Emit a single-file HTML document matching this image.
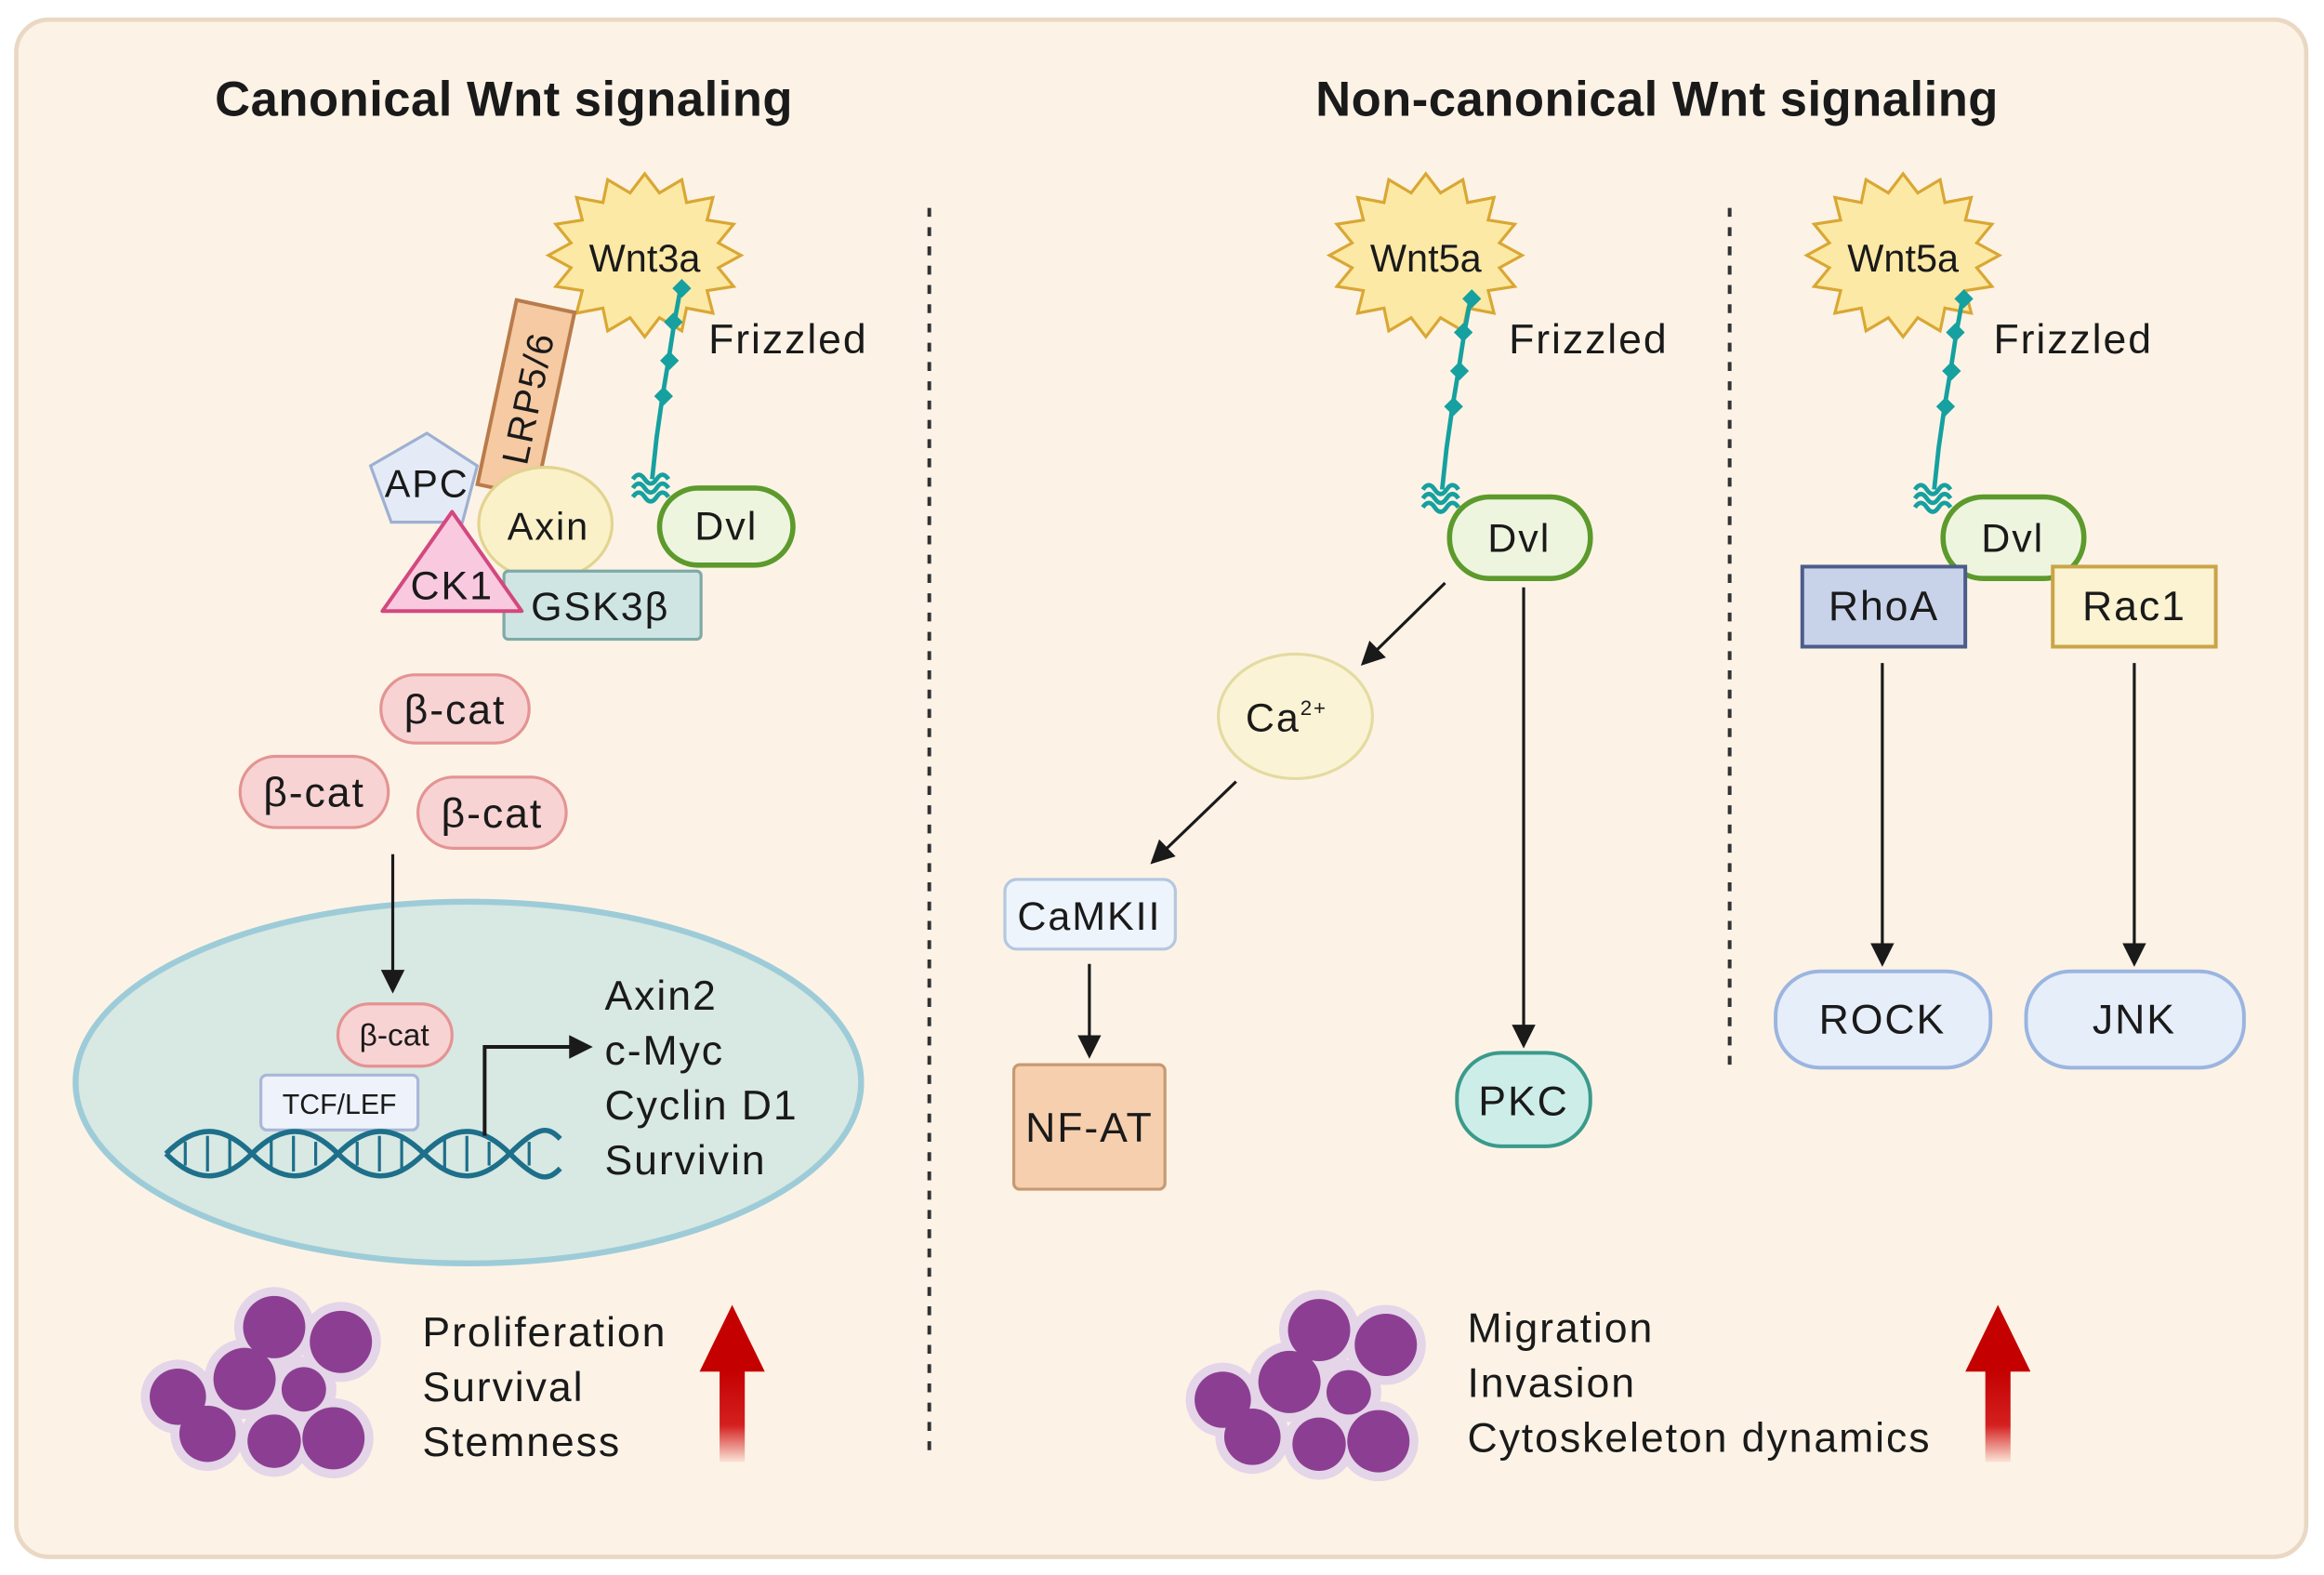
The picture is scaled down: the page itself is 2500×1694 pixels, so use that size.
<!DOCTYPE html>
<html><head><meta charset="utf-8"><style>
html,body{margin:0;padding:0;background:#fff;width:2500px;height:1694px;overflow:hidden}
svg{display:block}
text{font-family:"Liberation Sans",sans-serif;fill:#1a1a1a;letter-spacing:1.2px}
.t{font-size:28px}
</style></head><body>
<svg width="2500" height="1694" viewBox="0 0 1568 1062" xmlns="http://www.w3.org/2000/svg">
<defs>
<polygon id="star" points="65,0 49.7,8.4 60,21 42.1,23.8 46,39 28.2,35.6 25,51 9.9,42.1 0,55 -9.9,42.1 -25,51 -28.2,35.6 -46,39 -42.1,23.8 -60,21 -49.7,8.4 -65,0 -49.7,-8.4 -60,-21 -42.1,-23.8 -46,-39 -28.2,-35.6 -25,-51 -9.9,-42.1 0,-55 9.9,-42.1 25,-51 28.2,-35.6 46,-39 42.1,-23.8 60,-21 49.7,-8.4" fill="#fde9a6" stroke="#d9a733" stroke-width="2"/>
<marker id="ah2" markerWidth="16" markerHeight="16" refX="12" refY="8" orient="auto" markerUnits="userSpaceOnUse" viewBox="0 0 16 16"><path d="M0,0 L16,8 L0,16 z" fill="#1a1a1a"/></marker>
<g id="cells">
<g fill="#e4d5e8"><circle cx="85" cy="25" r="27"/><circle cx="130" cy="35" r="27"/><circle cx="65" cy="60" r="27"/><circle cx="20" cy="72" r="25"/><circle cx="105" cy="67" r="22"/><circle cx="40" cy="97" r="25"/><circle cx="85" cy="102" r="24"/><circle cx="125" cy="100" r="27"/></g>
<g fill="#8c3f92"><circle cx="85" cy="25" r="21"/><circle cx="130" cy="35" r="21"/><circle cx="65" cy="60" r="21"/><circle cx="20" cy="72" r="19"/><circle cx="105" cy="67" r="15"/><circle cx="40" cy="97" r="19"/><circle cx="85" cy="102" r="18"/><circle cx="125" cy="100" r="21"/></g>
</g>
<linearGradient id="rg" x1="0" y1="0" x2="0" y2="1"><stop offset="0" stop-color="#c40000"/><stop offset="0.6" stop-color="#d42020"/><stop offset="1" stop-color="#fbe3d6"/></linearGradient>
<g id="redarrow"><polygon points="-22,45 0,0 22,45" fill="#c40000"/><rect x="-8.5" y="44" width="17" height="62" fill="url(#rg)"/></g>
<g id="fz" fill="none" stroke="#16a0a0" stroke-width="3">
<path d="M25,-115 L20,-88 L16,-62 L12,-38 L8,-10 L5,18"/>
<path d="M-8,18 q4,-6 8,0 q4,6 8,0 q4,-6 8,0 M-8,24 q4,-6 8,0 q4,6 8,0 q4,-6 8,0 M-8,30 q4,-6 8,0 q4,6 8,0 q4,-6 8,0"/>
<g fill="#16a0a0" stroke="none"><rect x="20" y="-115" width="9" height="9" transform="rotate(45 25 -110)"/><rect x="15" y="-92" width="9" height="9" transform="rotate(45 20 -88)"/><rect x="12" y="-67" width="9" height="9" transform="rotate(45 16 -62)"/><rect x="8" y="-43" width="9" height="9" transform="rotate(45 12 -38)"/></g>
</g>
</defs>
<rect x="0" y="0" width="1568" height="1062" fill="#fff"/>
<rect x="11" y="13" width="1545" height="1037" rx="22" fill="#fcf3e6" stroke="#ead8c4" stroke-width="3"/>
<text x="340" y="78" font-size="33" font-weight="bold" text-anchor="middle" style="letter-spacing:0.3px">Canonical Wnt signaling</text>
<text x="1118" y="78" font-size="33" font-weight="bold" text-anchor="middle" style="letter-spacing:0.3px">Non-canonical Wnt signaling</text>
<line x1="627" y1="140" x2="627" y2="985" stroke="#333" stroke-width="2.5" stroke-dasharray="6,7"/>
<line x1="1167" y1="140" x2="1167" y2="718" stroke="#333" stroke-width="2.5" stroke-dasharray="6,7"/>

<!-- Canonical -->
<use href="#star" x="435" y="172"/>
<text x="435" y="183" font-size="26" text-anchor="middle" style="letter-spacing:0">Wnt3a</text>
<use href="#fz" x="435" y="305"/>
<text x="478" y="238" class="t">Frizzled</text>
<g transform="rotate(12 355 268)"><rect x="335" y="205" width="40" height="127" fill="#f6caa2" stroke="#b97b4b" stroke-width="2.5"/>
<text x="355" y="278" font-size="25" text-anchor="middle" transform="rotate(-90 355 268)">LRP5/6</text></g>
<polygon points="288,292 322,314 312,352 264,352 250,314" fill="#e4ebf7" stroke="#9eb0d2" stroke-width="2"/>
<text x="288" y="335" font-size="26" text-anchor="middle">APC</text>
<ellipse cx="368" cy="353" rx="45" ry="38" fill="#fbf1c9" stroke="#e2d48f" stroke-width="2"/>
<text x="370" y="364" font-size="26" text-anchor="middle">Axin</text>
<rect x="445" y="329" width="90" height="52" rx="26" fill="#eef5df" stroke="#5c9a2c" stroke-width="3.5"/>
<text x="490" y="364" font-size="27" text-anchor="middle">Dvl</text>
<rect x="340" y="385" width="133" height="46" rx="3" fill="#cfe5e3" stroke="#7fa9a6" stroke-width="2"/>
<text x="405" y="418" font-size="27" text-anchor="middle">GSK3β</text>
<polygon points="258,412 305,345 352,412" fill="#f9c9df" stroke="#d2487f" stroke-width="2.5" stroke-linejoin="round"/>
<text x="305" y="404" font-size="27" text-anchor="middle">CK1</text>
<g fill="#f8d3d3" stroke="#e49393" stroke-width="2">
<rect x="257" y="455" width="100" height="46" rx="23"/><rect x="162" y="510" width="100" height="48" rx="24"/><rect x="282" y="524" width="100" height="48" rx="24"/></g>
<text x="307" y="488" class="t" text-anchor="middle">β-cat</text>
<text x="212" y="544" class="t" text-anchor="middle">β-cat</text>
<text x="332" y="558" class="t" text-anchor="middle">β-cat</text>
<ellipse cx="316" cy="730" rx="265" ry="122" fill="#d8e8e3" stroke="#9dccd8" stroke-width="4"/>
<line x1="265" y1="576" x2="265" y2="666" stroke="#1a1a1a" stroke-width="2" marker-end="url(#ah2)"/>
<rect x="228" y="677" width="77" height="42" rx="21" fill="#f8d3d3" stroke="#e49393" stroke-width="2"/>
<text x="266" y="705" font-size="21" text-anchor="middle" style="letter-spacing:0">β-cat</text>
<rect x="176" y="725" width="106" height="37" rx="4" fill="#eef3fb" stroke="#a9b7d8" stroke-width="2"/>
<text x="229" y="751" font-size="19" text-anchor="middle" style="letter-spacing:0">TCF/LEF</text>
<g fill="none" stroke="#1d6f8a" stroke-width="3.5">
<path d="M112,778 C132,758 150,758 170,778 S208,798 228,778 S266,758 286,778 S324,798 344,778 S370,760 378,768"/>
<path d="M112,778 C132,798 150,798 170,778 S208,758 228,778 S266,798 286,778 S324,758 344,778 S370,796 378,788"/>
</g>
<g stroke="#1d6f8a" stroke-width="2">
<line x1="125" y1="770" x2="125" y2="786"/><line x1="140" y1="766" x2="140" y2="790"/><line x1="155" y1="768" x2="155" y2="788"/><line x1="183" y1="768" x2="183" y2="788"/><line x1="198" y1="766" x2="198" y2="790"/><line x1="213" y1="770" x2="213" y2="786"/><line x1="241" y1="770" x2="241" y2="786"/><line x1="256" y1="766" x2="256" y2="790"/><line x1="271" y1="768" x2="271" y2="788"/><line x1="300" y1="768" x2="300" y2="788"/><line x1="315" y1="766" x2="315" y2="790"/><line x1="330" y1="770" x2="330" y2="786"/><line x1="357" y1="770" x2="357" y2="786"/>
</g>
<path d="M327,766 L327,706 L396,706" fill="none" stroke="#1a1a1a" stroke-width="2.5" marker-end="url(#ah2)"/>
<g class="t"><text x="408" y="681">Axin2</text><text x="408" y="718">c-Myc</text><text x="408" y="755">Cyclin D1</text><text x="408" y="792">Survivin</text></g>
<use href="#cells" x="100" y="870"/>
<g class="t"><text x="285" y="908">Proliferation</text><text x="285" y="945">Survival</text><text x="285" y="982">Stemness</text></g>
<use href="#redarrow" x="494" y="880"/>

<!-- Non-canonical 1 -->
<use href="#star" x="962" y="172"/>
<text x="962" y="183" font-size="26" text-anchor="middle" style="letter-spacing:0">Wnt5a</text>
<use href="#fz" x="968" y="312"/>
<text x="1018" y="238" class="t">Frizzled</text>
<rect x="978" y="335" width="95" height="55" rx="27" fill="#eef5df" stroke="#5c9a2c" stroke-width="3.5"/>
<text x="1025" y="372" font-size="27" text-anchor="middle">Dvl</text>
<line x1="975" y1="393" x2="921" y2="446" stroke="#1a1a1a" stroke-width="2" marker-end="url(#ah2)"/>
<ellipse cx="874" cy="483" rx="52" ry="42" fill="#fbf3d5" stroke="#e3dba0" stroke-width="2"/>
<text x="868" y="493" font-size="27" text-anchor="middle">Ca<tspan font-size="14" dy="-11">2+</tspan></text>
<line x1="834" y1="527" x2="779" y2="580" stroke="#1a1a1a" stroke-width="2" marker-end="url(#ah2)"/>
<rect x="678" y="593" width="115" height="47" rx="8" fill="#eef4fb" stroke="#b4c7e0" stroke-width="2"/>
<text x="735" y="627" font-size="27" text-anchor="middle">CaMKII</text>
<line x1="735" y1="650" x2="735" y2="710" stroke="#1a1a1a" stroke-width="2" marker-end="url(#ah2)"/>
<rect x="684" y="718" width="102" height="84" rx="4" fill="#f6cfae" stroke="#c79a72" stroke-width="2"/>
<text x="735" y="770" class="t" text-anchor="middle">NF-AT</text>
<line x1="1028" y1="396" x2="1028" y2="703" stroke="#1a1a1a" stroke-width="2" marker-end="url(#ah2)"/>
<rect x="983" y="710" width="90" height="63" rx="30" fill="#cdeee8" stroke="#3a9a8c" stroke-width="2.5"/>
<text x="1028" y="752" class="t" text-anchor="middle">PKC</text>
<use href="#cells" x="805" y="872"/>
<g class="t"><text x="990" y="905">Migration</text><text x="990" y="942">Invasion</text><text x="990" y="979">Cytoskeleton dynamics</text></g>
<use href="#redarrow" x="1348" y="880"/>

<!-- Non-canonical 2 -->
<use href="#star" x="1284" y="172"/>
<text x="1284" y="183" font-size="26" text-anchor="middle" style="letter-spacing:0">Wnt5a</text>
<use href="#fz" x="1300" y="312"/>
<text x="1345" y="238" class="t">Frizzled</text>
<rect x="1311" y="335" width="95" height="55" rx="27" fill="#eef5df" stroke="#5c9a2c" stroke-width="3.5"/>
<text x="1358" y="372" font-size="27" text-anchor="middle">Dvl</text>
<rect x="1216" y="382" width="110" height="54" fill="#c8d3ea" stroke="#4c5c8a" stroke-width="2.5"/>
<text x="1271" y="418" class="t" text-anchor="middle">RhoA</text>
<rect x="1385" y="382" width="110" height="54" fill="#fbf3d2" stroke="#c9a548" stroke-width="2.5"/>
<text x="1440" y="418" class="t" text-anchor="middle">Rac1</text>
<line x1="1270" y1="447" x2="1270" y2="648" stroke="#1a1a1a" stroke-width="2" marker-end="url(#ah2)"/>
<line x1="1440" y1="447" x2="1440" y2="648" stroke="#1a1a1a" stroke-width="2" marker-end="url(#ah2)"/>
<rect x="1198" y="655" width="145" height="65" rx="30" fill="#e6eef9" stroke="#9bb5e0" stroke-width="2.5"/>
<text x="1270" y="697" class="t" text-anchor="middle">ROCK</text>
<rect x="1367" y="655" width="147" height="65" rx="30" fill="#e6eef9" stroke="#9bb5e0" stroke-width="2.5"/>
<text x="1440" y="697" class="t" text-anchor="middle">JNK</text>
</svg>
</body></html>
